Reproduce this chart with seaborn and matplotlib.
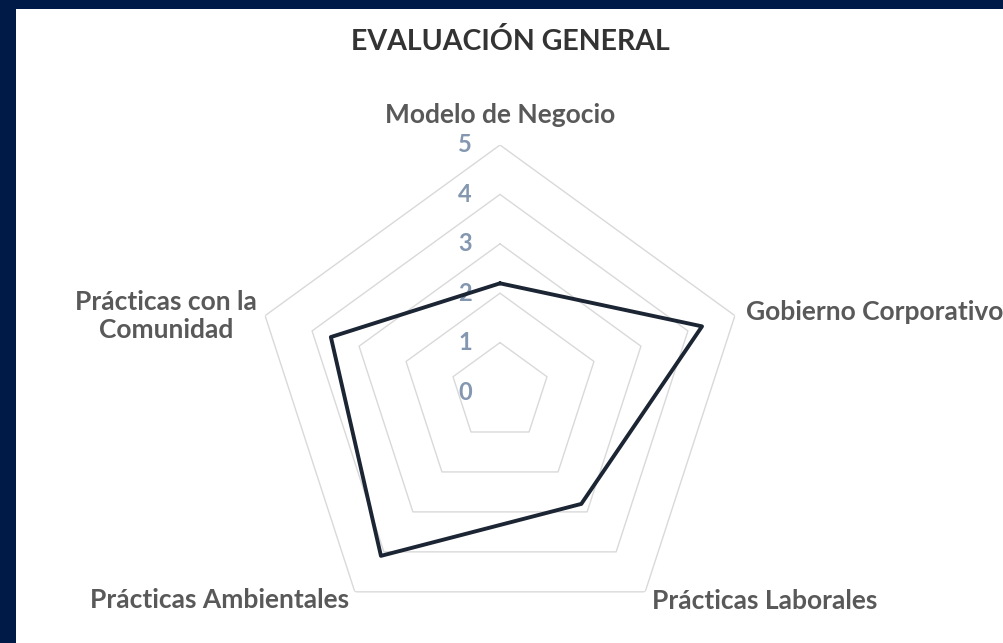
import numpy as np
import pandas as pd
import matplotlib
matplotlib.use("Agg")
import matplotlib.pyplot as plt
import matplotlib.transforms as mtransforms
import seaborn as sns

categories = [
    "Modelo de Negocio",
    "Gobierno Corporativo",
    "Prácticas Laborales",
    "Prácticas Ambientales",
    "Prácticas con la\nComunidad",
]
scores = [2.2, 4.3, 2.8, 4.1, 3.6]
levels = [0, 1, 2, 3, 4, 5]

NAVY = "#001a48"
LINE = "#1c2533"
GRID = "#d9d9d9"
TICK = "#8497b0"
LABEL = "#595959"


def main():
    sns.set_theme(style="white")
    plt.rcParams["font.family"] = ["Lato", "DejaVu Sans"]

    fig = plt.figure(figsize=(10.04, 6.43), dpi=100)
    fig.patch.set_facecolor(NAVY)
    # white panel inside the navy frame
    fig.add_artist(plt.Rectangle((16 / 1004, 0), 1, 1 - 9 / 643,
                                 transform=fig.transFigure,
                                 facecolor="white", edgecolor="none", zorder=0))

    ax = fig.add_axes([253 / 1004, 4 / 643, 494 / 1004, 494 / 643],
                      projection="polar")
    ax.set_facecolor("none")
    ax.set_theta_offset(np.pi / 2)
    ax.set_theta_direction(-1)
    ax.set_ylim(0, 5)
    ax.grid(False)
    ax.spines["polar"].set_visible(False)

    n = len(categories)
    angles = np.linspace(0, 2 * np.pi, n, endpoint=False)
    closed = np.append(angles, 2 * np.pi)

    # pentagon grid rings
    for lv in levels[1:]:
        ax.plot(closed, [lv] * (n + 1), color=GRID, lw=1.0, zorder=1)

    df = pd.DataFrame({"angle": closed, "score": scores + scores[:1]})
    sns.lineplot(data=df, x="angle", y="score", sort=False, estimator=None,
                 ax=ax, color=LINE, lw=2.8, zorder=3)
    ax.set_xlabel("")
    ax.set_ylabel("")
    ax.set_xticks([])
    ax.set_yticks([])
    ax.set_ylim(0, 5)

    # radial value labels
    off = mtransforms.offset_copy(ax.transData, fig=fig, x=-35, y=0, units="dots")
    for lv in levels:
        ax.text(0, lv, str(lv), transform=off, ha="center", va="center",
                fontsize=17, fontweight="bold", color=TICK, zorder=2)

    # category labels
    pos = [
        (0.0, 5.6, "center", "center"),
        (np.deg2rad(72), 5.23, "left", "center"),
        (np.deg2rad(144), 5.23, "left", "center"),
        (np.deg2rad(216), 5.2, "right", "center"),
        (np.deg2rad(282.8), 6.93, "center", "center"),
    ]
    for name, (th, r, ha, va) in zip(categories, pos):
        ax.text(th, r, name, ha=ha, va=va, fontsize=19, fontweight="bold",
                color=LABEL, linespacing=1.2, clip_on=False)

    fig.text(510 / 1004, 1 - 41 / 643, "EVALUACIÓN GENERAL", ha="center",
             va="center", fontsize=20.5, fontweight="bold", color="#333333")

    fig.savefig("out.png", dpi=100, facecolor=fig.get_facecolor())


if __name__ == "__main__":
    main()
